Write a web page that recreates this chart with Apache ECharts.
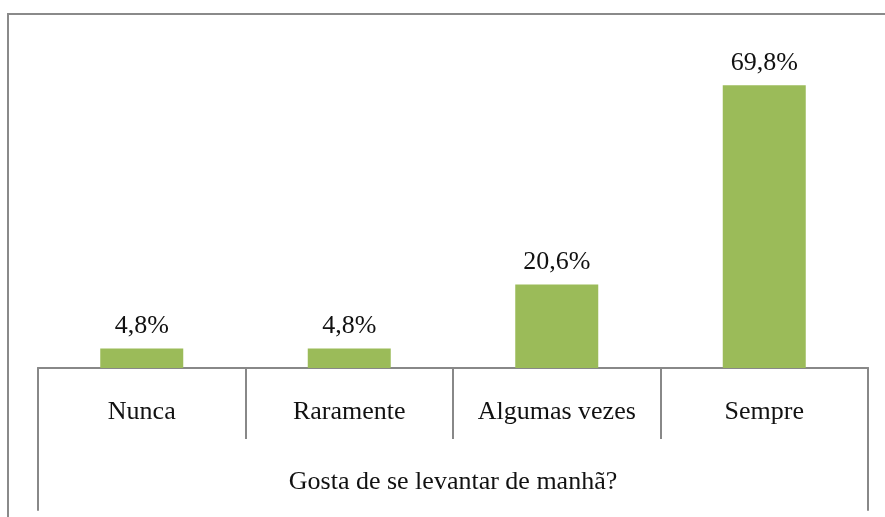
<!DOCTYPE html>
<html>
<head>
<meta charset="utf-8">
<script src="https://cdn.jsdelivr.net/npm/echarts@6/dist/echarts.min.js"></script>
<style>
html,body{margin:0;padding:0;background:#fff;overflow:hidden;}
#frame{position:absolute;left:7px;top:13px;width:900px;height:520px;border-left:2px solid #8a8a8a;border-top:2px solid #8a8a8a;}
#chart{position:absolute;left:0;top:0;width:885px;height:517px;}
</style>
</head>
<body>
<div id="frame"></div>
<div id="chart"></div>
<script>
const categories = ['Nunca', 'Raramente', 'Algumas vezes', 'Sempre'];
const values = [4.8, 4.8, 20.6, 69.8];
const axisTitle = 'Gosta de se levantar de manhã?';

const FONT = '"Liberation Serif", "Times New Roman", serif';
const LINE = '#888888';
const chart = echarts.init(document.getElementById('chart'));
chart.setOption({
  animation: false,
  grid: [
    {left: 38, right: 17, top: 44, bottom: 149},
    {left: 38, right: 17, top: 368, bottom: 7}
  ],
  xAxis: [
    {
      type: 'category', gridIndex: 0, data: categories,
      boundaryGap: true,
      axisLine: {show: true, lineStyle: {color: LINE, width: 2}},
      axisTick: {show: true, length: 71, lineStyle: {color: LINE, width: 2}},
      axisLabel: {margin: 31, color: '#111', fontFamily: FONT, fontSize: 26},
      name: axisTitle, nameLocation: 'middle', nameGap: 101,
      nameTextStyle: {color: '#111', fontFamily: FONT, fontSize: 26}
    },
    {type: 'category', gridIndex: 1, data: categories, show: false}
  ],
  yAxis: [
    {type: 'value', gridIndex: 0, min: 0, max: 80, show: false},
    {type: 'value', gridIndex: 1, position: 'left', axisLine: {show: true, lineStyle: {color: LINE, width: 2}},
     axisTick: {show: false}, axisLabel: {show: false}, splitLine: {show: false}},
    {type: 'value', gridIndex: 1, position: 'right', axisLine: {show: true, lineStyle: {color: LINE, width: 2}},
     axisTick: {show: false}, axisLabel: {show: false}, splitLine: {show: false}}
  ],
  series: [{
    type: 'bar', xAxisIndex: 0, yAxisIndex: 0, data: values,
    barWidth: '40%',
    itemStyle: {color: '#9BBB59'},
    label: {
      show: true, position: 'top', distance: 9,
      formatter: p => String(p.value).replace('.', ',') + '%',
      color: '#111', fontFamily: FONT, fontSize: 26
    }
  }]
});
</script>
</body>
</html>
